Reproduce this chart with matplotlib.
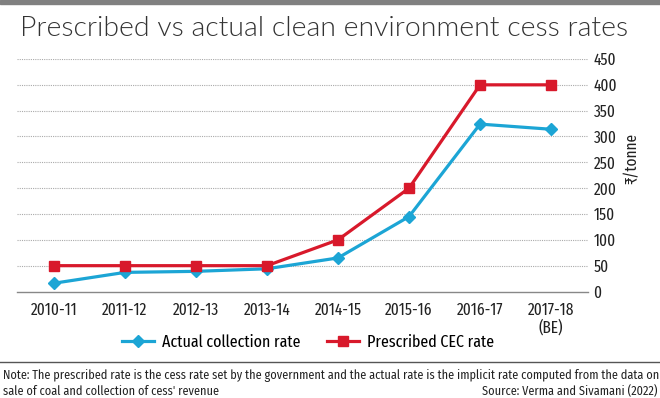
import matplotlib
matplotlib.use("Agg")
import matplotlib.pyplot as plt
from matplotlib.lines import Line2D

years = ['2010-11', '2011-12', '2012-13', '2013-14', '2014-15', '2015-16', '2016-17', '2017-18\n(BE)']
actual = [16, 37, 39, 44, 65, 145, 324, 314]
prescribed = [50, 50, 50, 50, 100, 200, 400, 400]
yticks = [0, 50, 100, 150, 200, 250, 300, 350, 400, 450]

blue = '#1ca5d5'
red = '#d8192b'
xc = ['Fira Sans Extra Condensed', 'DejaVu Sans']

plt.rcParams['font.family'] = ['Fira Sans Condensed', 'DejaVu Sans']

fig = plt.figure(figsize=(6.6, 3.98), dpi=100)
ax = fig.add_axes([17 / 660, 1 - 291.5 / 398, (588 - 17) / 660, (291.5 - 59) / 398])

x = list(range(len(years)))
ax.plot(x, actual, color=blue, lw=2.3, marker='D', ms=6, zorder=3)
ax.plot(x, prescribed, color=red, lw=2.3, marker='s', ms=7.5, zorder=4)

ax.set_xlim(-0.52, 7.52)
ax.set_ylim(0, 450)
ax.set_yticks(yticks)
ax.yaxis.tick_right()
ax.set_xticks(x)
ax.set_xticklabels(years, fontsize=12, color='#222222', linespacing=1.05, family=xc)
for t in ax.get_yticklabels():
    t.set_family(xc)
ax.tick_params(axis='y', length=0, pad=4, labelsize=12, labelcolor='#222222')
ax.tick_params(axis='x', length=0, pad=8)
for y in yticks[1:]:
    ax.axhline(y, color='#aaaaaa', lw=0.8, ls=(0, (1, 1)), zorder=1)
for s in ['top', 'left', 'right']:
    ax.spines[s].set_visible(False)
ax.spines['bottom'].set_color('#888888')
ax.spines['bottom'].set_linewidth(1)

fig.text(632 / 660, 1 - 158 / 398, '₹/tonne', rotation=90, ha='center', va='center',
         fontsize=12, color='#222222', family=xc)

fig.text(20 / 660, 1 - 36.5 / 398, 'Prescribed vs actual clean environment cess rates',
         fontsize=20.4, color='#333333', family='Lato', fontweight=300,
         va='baseline', ha='left')

fig.patches.append(plt.Rectangle((0, 1 - 4 / 398), 1, 4 / 398, transform=fig.transFigure,
                                 color='#808080'))

handles = [Line2D([], [], color=blue, lw=2.3, marker='D', ms=6),
           Line2D([], [], color=red, lw=2.3, marker='s', ms=7.5)]
fig.legend(handles, ['Actual collection rate', 'Prescribed CEC rate'],
           loc='center', bbox_to_anchor=(308 / 660, 1 - 342 / 398), ncol=2,
           frameon=False, prop={'family': xc, 'size': 12.5}, handlelength=1.85,
           columnspacing=1.55, handletextpad=0.45)

fig.add_artist(Line2D([0, 1], [1 - 362 / 398, 1 - 362 / 398], color='#555555', lw=1,
                      transform=fig.transFigure))

fig.text(3 / 660, 1 - 376 / 398,
         "Note: The prescribed rate is the cess rate set by the government and the actual rate is the implicit rate computed from the data on",
         fontsize=8.8, color='#222222', va='center', ha='left')
fig.text(3 / 660, 1 - 391 / 398, "sale of coal and collection of cess' revenue",
         fontsize=8.8, color='#222222', va='center', ha='left')
fig.text(657 / 660, 1 - 391 / 398, 'Source: Verma and Sivamani (2022)',
         fontsize=8.8, color='#222222', va='center', ha='right')

fig.savefig('out.png', dpi=100)
